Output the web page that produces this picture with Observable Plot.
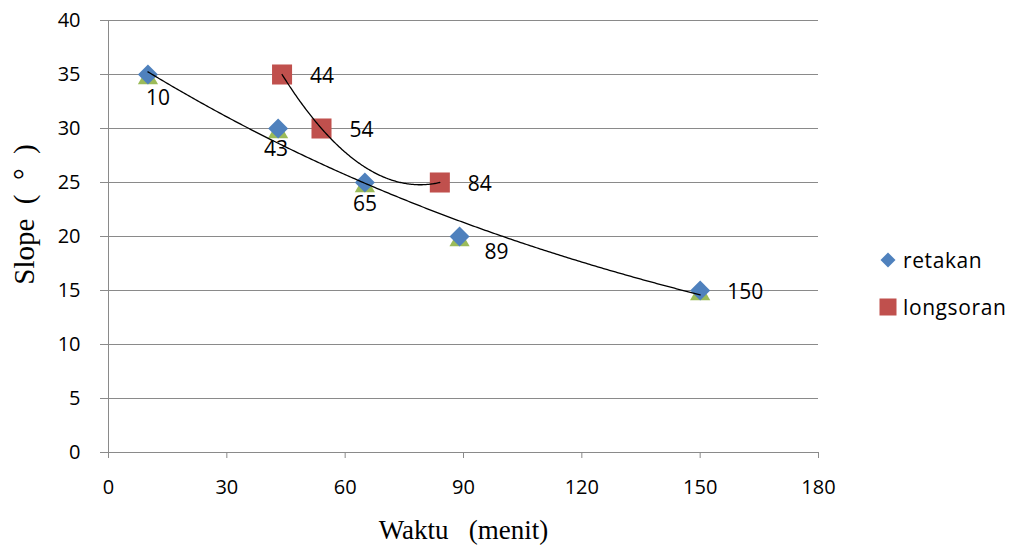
<!DOCTYPE html>
<html><head><meta charset="utf-8">
<script src="https://cdn.jsdelivr.net/npm/d3@7"></script>
<script src="https://cdn.jsdelivr.net/npm/@observablehq/plot@0.6"></script>
<style>
body{margin:0;background:#fff}
#wrap{position:relative;width:1014px;height:545px;overflow:hidden}
.legend{position:absolute;left:879px;top:247px;font-family:"Open Sans",sans-serif;font-size:21px;letter-spacing:0.6px;color:#000}
.legend .item{display:flex;align-items:center;height:26px}
.legend .item + .item{margin-top:21px}
.legend svg{margin-right:6px}
.ttl{white-space:pre}
</style>
</head><body>
<div id="wrap"></div>
<script>
// ---- data ----
const retakanWaktu = [10, 43, 65, 89, 150];
const retakanSlope = [35, 30, 25, 20, 15];
const longsoranWaktu = [44, 54, 84];
const longsoranSlope = [35, 30, 25];
const xTicks = [0, 30, 60, 90, 120, 150, 180];
const yTicks = [0, 5, 10, 15, 20, 25, 30, 35, 40];
const seriesNames = ["retakan", "longsoran"];
const xTitle = "Waktu   (menit)";
const yTitle = "Slope  (  °  )";
// label offsets (styling only)
const retakanLabelDx = [10, -2, 0, 37, 45];
const retakanLabelDy = [24, 21, 22, 16, 2];
const longsoranLabelDx = [40, 40, 40];
const longsoranLabelDy = [2, 2, 2];

const BLUE = "#4F81BD", RED = "#C0504D", GREEN = "#9BBB59", GRID = "#8a8a8a";
const FONT = "'Open Sans', sans-serif";
const SERIF = "'Liberation Serif', 'Times New Roman', serif";

const retakan = retakanWaktu.map((x, i) => ({x, y: retakanSlope[i], dx: retakanLabelDx[i], dy: retakanLabelDy[i]}));
const longsoran = longsoranWaktu.map((x, i) => ({x, y: longsoranSlope[i], dx: longsoranLabelDx[i], dy: longsoranLabelDy[i]}));

// Exponential trendline (least squares on ln y), as Excel does
function expFit(xs, ys) {
  const ly = ys.map(Math.log);
  const mx = d3.mean(xs), my = d3.mean(ly);
  let sxy = 0, sxx = 0;
  xs.forEach((x, i) => { sxy += (x - mx) * (ly[i] - my); sxx += (x - mx) ** 2; });
  const b = sxy / sxx, a = Math.exp(my - b * mx);
  return x => a * Math.exp(b * x);
}
// Polynomial (order 2) trendline via normal equations
function polyFit(xs, ys, order) {
  const n = order + 1;
  const A = Array.from({length: n}, () => new Array(n + 1).fill(0));
  xs.forEach((x, k) => {
    for (let i = 0; i < n; i++) {
      for (let j = 0; j < n; j++) A[i][j] += x ** (i + j);
      A[i][n] += ys[k] * x ** i;
    }
  });
  for (let i = 0; i < n; i++) {
    let p = i;
    for (let r = i + 1; r < n; r++) if (Math.abs(A[r][i]) > Math.abs(A[p][i])) p = r;
    [A[i], A[p]] = [A[p], A[i]];
    for (let r = 0; r < n; r++) if (r !== i) {
      const f = A[r][i] / A[i][i];
      for (let c = i; c <= n; c++) A[r][c] -= f * A[i][c];
    }
  }
  const coef = A.map((row, i) => row[n] / row[i]);
  return x => coef.reduce((s, c, i) => s + c * x ** i, 0);
}
const fR = expFit(retakanWaktu, retakanSlope);
const fL = polyFit(longsoranWaktu, longsoranSlope, 2);
const trendR = d3.range(d3.min(retakanWaktu), d3.max(retakanWaktu) + 0.01, 0.5).map(x => ({x, y: fR(x)}));
const trendL = d3.range(d3.min(longsoranWaktu), d3.max(longsoranWaktu) + 0.01, 0.25).map(x => ({x, y: fL(x)}));

const chart = Plot.plot({
  width: 1014,
  height: 545,
  marginLeft: 108,
  marginRight: 196,
  marginTop: 20,
  marginBottom: 93,
  style: {fontFamily: FONT, fontSize: "20px", background: "#fff", color: "#000"},
  x: {domain: [0, 180]},
  y: {domain: [0, 40]},
  marks: [
    Plot.ruleY(yTicks, {stroke: GRID, strokeWidth: 1}),
    Plot.ruleX([0], {stroke: GRID, strokeWidth: 1}),
    Plot.axisY({ticks: yTicks, tickSize: 8, tickPadding: 20, stroke: GRID, label: null, fontSize: 20}),
    Plot.axisX({ticks: xTicks, tickSize: 6, tickPadding: 21, stroke: GRID, label: null, fontSize: 20}),
    Plot.dot(retakan, {x: "x", y: "y", symbol: "triangle", r: 7.5, fill: GREEN, stroke: null, dy: 4}),
    Plot.dot(retakan, {x: "x", y: "y", symbol: "diamond2", r: 9, fill: BLUE, stroke: null}),
    Plot.dot(longsoran, {x: "x", y: "y", symbol: "square", r: 11.3, fill: RED, stroke: null}),
    Plot.line(trendR, {x: "x", y: "y", stroke: "#000", strokeWidth: 1.3}),
    Plot.line(trendL, {x: "x", y: "y", stroke: "#000", strokeWidth: 1.3}),
    ...retakan.map(d => Plot.text([d], {x: "x", y: "y", text: d => String(d.x), dx: d.dx, dy: d.dy, fontSize: 21, fill: "#000"})),
    ...longsoran.map(d => Plot.text([d], {x: "x", y: "y", text: d => String(d.x), dx: d.dx, dy: d.dy, fontSize: 21, fill: "#000"})),
    Plot.text([xTitle], {frameAnchor: "bottom", textAnchor: "middle", lineAnchor: "middle", dy: 78, fontFamily: SERIF, fontSize: 27, fill: "#000"}),
    Plot.text([yTitle], {frameAnchor: "left", textAnchor: "middle", lineAnchor: "middle", dx: -84, dy: -22, rotate: -90, fontFamily: SERIF, fontSize: 29, fill: "#000"})
  ]
});
// keep the wide word gaps of the reference titles
chart.querySelectorAll("text").forEach(t => {
  if (t.textContent === xTitle || t.textContent === yTitle) t.classList.add("ttl");
});
const wrap = document.getElementById("wrap");
wrap.appendChild(chart);

// legend
const legend = document.createElement("div");
legend.className = "legend";
const swatches = [
  `<svg width="18" height="18" viewBox="-9 -9 18 18"><path d="M0,-7.5L7.5,0L0,7.5L-7.5,0Z" fill="${BLUE}"/></svg>`,
  `<svg width="18" height="18" viewBox="-9 -9 18 18"><rect x="-8.5" y="-8.5" width="17" height="17" fill="${RED}"/></svg>`
];
seriesNames.forEach((name, i) => {
  const it = document.createElement("div");
  it.className = "item";
  it.innerHTML = swatches[i] + `<span>${name}</span>`;
  legend.appendChild(it);
});
wrap.appendChild(legend);
</script>
</body></html>
